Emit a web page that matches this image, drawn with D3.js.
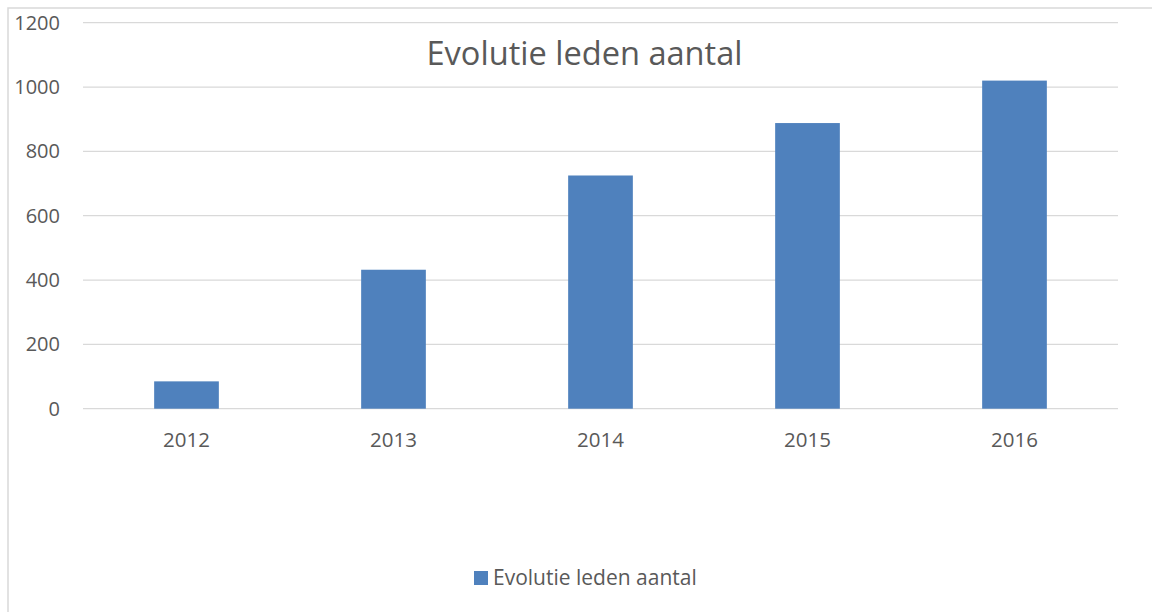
<!DOCTYPE html>
<html>
<head>
<meta charset="utf-8">
<script src="https://cdn.jsdelivr.net/npm/d3@7"></script>
<style>
  body { margin: 0; background: #fff; }
  text { font-family: "Open Sans", sans-serif; fill: #595959; }
</style>
</head>
<body>
<div id="chart"></div>
<script>
var years = ["2012", "2013", "2014", "2015", "2016"];
var leden = [85, 432, 725, 888, 1020];
var yTicks = [0, 200, 400, 600, 800, 1000, 1200];
var titel = "Evolutie leden aantal";

var width = 1152, height = 612;
var margin = {top: 22.7, left: 83, right: 34, bottom: 203.3};

var svg = d3.select("#chart").append("svg")
    .attr("width", width).attr("height", height);

// chart frame
svg.append("rect")
    .attr("x", 8).attr("y", 8)
    .attr("width", 1160).attr("height", 620)
    .attr("fill", "none").attr("stroke", "#d9d9d9").attr("stroke-width", 1.5);

var x = d3.scaleBand()
    .domain(years)
    .range([margin.left, width - margin.right])
    .paddingInner(0.6875)
    .paddingOuter(0.34375);

var y = d3.scaleLinear()
    .domain([0, 1200])
    .range([height - margin.bottom, margin.top]);

// gridlines
svg.append("g").selectAll("line")
    .data(yTicks)
    .enter().append("line")
    .attr("x1", margin.left).attr("x2", width - margin.right)
    .attr("y1", d => y(d)).attr("y2", d => y(d))
    .attr("stroke", "#d9d9d9").attr("stroke-width", 1.3);

// y labels
svg.append("g").selectAll("text")
    .data(yTicks)
    .enter().append("text")
    .attr("x", 60).attr("y", d => y(d) + 7)
    .attr("text-anchor", "end")
    .style("font-size", "20px")
    .text(d => d);

// bars
svg.append("g").selectAll("rect")
    .data(leden)
    .enter().append("rect")
    .attr("x", (d, i) => x(years[i]))
    .attr("width", x.bandwidth())
    .attr("y", d => y(d))
    .attr("height", d => y(0) - y(d))
    .attr("fill", "#4f81bd");

// x labels
svg.append("g").selectAll("text")
    .data(years)
    .enter().append("text")
    .attr("x", d => x(d) + x.bandwidth() / 2)
    .attr("y", 447)
    .attr("text-anchor", "middle")
    .style("font-size", "20.5px")
    .text(d => d);

// title
svg.append("text")
    .attr("x", 584.5).attr("y", 65)
    .attr("text-anchor", "middle")
    .style("font-size", "32.6px")
    .text(titel);

// legend
var lg = svg.append("g");
lg.append("rect")
    .attr("x", 474).attr("y", 571)
    .attr("width", 14).attr("height", 14)
    .attr("fill", "#4f81bd");
lg.append("text")
    .attr("x", 493).attr("y", 585)
    .style("font-size", "21px")
    .text(titel);
</script>
</body>
</html>
